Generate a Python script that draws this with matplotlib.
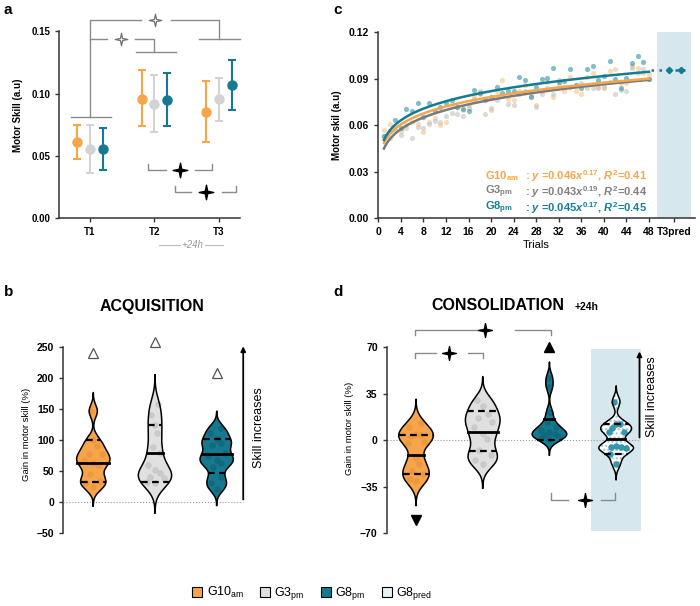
import numpy as np
import matplotlib
matplotlib.use('Agg')
import matplotlib.pyplot as plt
from matplotlib.path import Path
from matplotlib.patches import Patch

plt.rcParams['font.family'] = ['Liberation Sans', 'DejaVu Sans']
plt.rcParams['mathtext.fontset'] = 'custom'
plt.rcParams['mathtext.rm'] = 'Liberation Sans:bold'
plt.rcParams['mathtext.it'] = 'Liberation Sans:italic:bold'
plt.rcParams['mathtext.bf'] = 'Liberation Sans:bold'
plt.rcParams['mathtext.sf'] = 'Liberation Sans'

# ---------------- DATA ----------------
# Panel a : motor skill per session (mean, lower, upper)
sessions = ['T1', 'T2', 'T3']
g10_mean = [0.0612, 0.0958, 0.0851]
g10_lo = [0.0472, 0.0735, 0.0606]
g10_hi = [0.0749, 0.1186, 0.1103]
g3_mean = [0.0553, 0.0918, 0.0952]
g3_lo = [0.0357, 0.0687, 0.0781]
g3_hi = [0.0749, 0.1151, 0.1124]
g8_mean = [0.0553, 0.0950, 0.1065]
g8_lo = [0.0384, 0.0741, 0.0869]
g8_hi = [0.0722, 0.1164, 0.1269]
a_yticks = [0.00, 0.05, 0.10, 0.15]

# Panel c : motor skill per trial
trials = list(range(1, 49))
c_g10 = [0.057, 0.061, 0.058, 0.056, 0.060, 0.062, 0.061, 0.0555, 0.062, 0.065,
         0.060, 0.062, 0.074, 0.072, 0.070, 0.073, 0.079, 0.080, 0.077, 0.070,
         0.082, 0.089, 0.077, 0.076, 0.082, 0.086, 0.081, 0.073, 0.082, 0.088,
         0.078, 0.086, 0.082, 0.091, 0.082, 0.080, 0.091, 0.094, 0.085, 0.084,
         0.095, 0.096, 0.087, 0.087, 0.098, 0.097, 0.094, 0.093]
c_g3 = [0.053, 0.052, 0.056, 0.054, 0.058, 0.052, 0.059, 0.0585, 0.061, 0.063,
        0.062, 0.066, 0.068, 0.067, 0.066, 0.071, 0.077, 0.082, 0.067, 0.071,
        0.076, 0.079, 0.074, 0.073, 0.080, 0.082, 0.079, 0.072, 0.080, 0.084,
        0.080, 0.089, 0.085, 0.085, 0.086, 0.087, 0.084, 0.084, 0.084, 0.085,
        0.088, 0.080, 0.083, 0.082, 0.097, 0.094, 0.096, 0.090]
c_g8 = [0.053, 0.0565, 0.0635, 0.0585, 0.0705, 0.069, 0.0745, 0.0655, 0.0745, 0.069,
        0.072, 0.0745, 0.076, 0.072, 0.0705, 0.069, 0.083, 0.081, 0.076, 0.078,
        0.0845, 0.081, 0.082, 0.082, 0.091, 0.089, 0.078, 0.085, 0.0897, 0.0903,
        0.097, 0.088, 0.0885, 0.096, 0.086, 0.084, 0.096, 0.0985, 0.089, 0.0917,
        0.1017, 0.0899, 0.0843, 0.0903, 0.100, 0.105, 0.1006, 0.0899]
# power-law curves as drawn (a, b) : y = a * x**b
fit_g10 = (0.0485, 0.160)
fit_g3 = (0.0450, 0.177)
fit_g8 = (0.0505, 0.162)
eq_labels = [('G10$_\\mathbf{am}$', ': $y$ =0.046$x^{\\mathbf{0.17}}$, $R^\\mathbf{2}$=0.41'),
             ('G3$_\\mathbf{pm}$', ': $y$ =0.043$x^{\\mathbf{0.19}}$, $R^\\mathbf{2}$=0.44'),
             ('G8$_\\mathbf{pm}$', ': $y$ =0.045$x^{\\mathbf{0.17}}$, $R^\\mathbf{2}$=0.45')]
t3pred_value = 0.0955
c_xticks = list(range(0, 49, 4))
c_yticks = [0.00, 0.03, 0.06, 0.09, 0.12]

# Panel b : acquisition gain (%)
acq_g10 = [24, 31, 35, 46, 60, 64, 68, 78, 78, 91, 100, 147]
acq_g3 = [31, 33, 39, 41, 47, 52, 60, 79, 89, 111, 124, 141, 158]
acq_g8 = [22, 31, 41, 57, 64, 68, 74, 80, 92, 95, 102, 111, 120]
acq_q1 = [32, 32, 47]
acq_med = [64, 79, 78]
acq_q3 = [100, 124, 102]
acq_outlier = [240, 258, 209]
b_yticks = [-50, 0, 50, 100, 150, 200, 250]

# Panel d : consolidation gain (%)
con_g10 = [13, 10, 5, 4, 3, -1, -2, -13, -18, -23, -25, -29, -31]
con_g3 = [30, 26, 20, 17, 14, 10, 5, 1, -7, -11, -15, -18]
con_g8 = [47, 40, 21, 14, 10, 8, 6, 5, 4, 3, 2, 1]
con_pred = [29, 12, 12, 9, 6, 6, -4.5, -5, -5, -6, -10, -17.5]
con_q1 = [-25, -8, 0.5, -10]
con_med = [-11, 6.5, 16, 1]
con_q3 = [4, 22, np.nan, 12]
con_outlier = [-60, np.nan, 70, np.nan]
d_yticks = [-70, -35, 0, 35, 70]

# ---------------- STYLE ----------------
ORANGE = '#F7A54A'
GREY = '#D3D3D3'
TEAL = '#16798F'
DGREY = '#808080'
SHADE = '#D6E8ED'
AXC = '#333333'
BR = '#8a8a8a'

star_path = Path([(0, 1), (0.17, 0.17), (1, 0), (0.17, -0.17), (0, -1), (-0.17, -0.17),
                  (-1, 0), (-0.17, 0.17), (0, 1)],
                 [Path.MOVETO] + [Path.LINETO] * 7 + [Path.CLOSEPOLY])

fig = plt.figure(figsize=(7.0, 6.06), dpi=100)


def style_axes(ax, fs=7.5):
    for s in ['top', 'right']:
        ax.spines[s].set_visible(False)
    for s in ['left', 'bottom']:
        ax.spines[s].set_color(AXC)
        ax.spines[s].set_linewidth(1.1)
    ax.tick_params(colors=AXC, width=1.0, length=3, labelsize=fs)
    for lab in ax.get_xticklabels() + ax.get_yticklabels():
        lab.set_fontweight('bold')
        lab.set_color('black')


# ================= Panel a =================
ax = fig.add_axes([0.0847, 0.6408, 0.2581, 0.3381])
ax.set_xlim(-0.476, 2.326)
ax.set_ylim(0, 0.165)
xs = np.arange(len(sessions))
for off, m, lo, hi, col in [(-0.197, g10_mean, g10_lo, g10_hi, ORANGE),
                            (0.0, g3_mean, g3_lo, g3_hi, GREY),
                            (0.197, g8_mean, g8_lo, g8_hi, TEAL)]:
    m = np.array(m); lo = np.array(lo); hi = np.array(hi)
    ax.errorbar(xs + off, m, yerr=[m - lo, hi - m], fmt='o', color=col, ms=6.5,
                capsize=3, elinewidth=1.5, capthick=1.5, zorder=3)
ax.spines['left'].set_bounds(0, 0.15)
ax.set_xticks(xs)
ax.set_xticklabels(sessions)
ax.set_yticks(a_yticks)
ax.set_yticklabels([f'{v:.2f}' for v in a_yticks])
style_axes(ax, 7)
ax.set_ylabel('Motor Skill (a.u)', fontsize=7, fontweight='bold', labelpad=6)
kw = dict(color=BR, lw=1.0, clip_on=False, zorder=1)
# top bracket
ax.plot([0, 0, 0.786], [0.0813, 0.1592, 0.1592], **kw)
ax.plot([1.251, 2.0, 2.0], [0.1592, 0.1592, 0.1439], **kw)
ax.plot([-0.30, 0.32], [0.0813, 0.0813], **kw)
ax.plot([1.69, 2.326], [0.1439, 0.1439], **kw)
ax.plot(1.008, 0.1592, marker=star_path, ms=9, mfc='white', mec='#707070', mew=0.9, clip_on=False)
# second bracket
ax.plot([0, 0.259], [0.1439, 0.1439], **kw)
ax.plot([0.698, 1.0, 1.0], [0.1439, 0.1439, 0.1332], **kw)
ax.plot([0.713, 1.329], [0.1332, 0.1332], **kw)
ax.plot(0.476, 0.1439, marker=star_path, ms=9, mfc='white', mec='#707070', mew=0.9, clip_on=False)
# black brackets
ax.plot([0.895, 0.895, 1.174], [0.043, 0.0384, 0.0384], **kw)
ax.plot([1.628, 1.896, 1.896], [0.0384, 0.0384, 0.043], **kw)
ax.plot(1.395, 0.0384, marker=star_path, ms=10.5, color='black', clip_on=False)
ax.plot([1.318, 1.318, 1.561], [0.0255, 0.0209, 0.0209], **kw)
ax.plot([2.042, 2.264, 2.264], [0.0209, 0.0209, 0.0255], **kw)
ax.plot(1.794, 0.0209, marker=star_path, ms=10.5, color='black', clip_on=False)
# +24h
ax.plot([1.07, 1.395], [-0.022, -0.022], color='#bbbbbb', lw=0.8, clip_on=False)
ax.plot([1.783, 2.062], [-0.022, -0.022], color='#bbbbbb', lw=0.8, clip_on=False)
ax.text(1.592, -0.022, '+24h', style='italic', color='#999999', fontsize=7,
        ha='center', va='center')

# ================= Panel c =================
ax = fig.add_axes([0.5404, 0.6398, 0.4524, 0.3069])
ax.set_xlim(0, 56.15)
ax.set_ylim(0, 0.12)
ax.axvspan(49.5, 55.5, color=SHADE, lw=0, zorder=0)
ax.scatter(trials, c_g10, s=14, color=ORANGE, alpha=0.4, lw=0, zorder=2)
ax.scatter(trials, c_g3, s=14, color='#BDBDBD', alpha=0.55, lw=0, zorder=2)
ax.scatter(trials, c_g8, s=14, color='#1A8AA0', alpha=0.55, lw=0, zorder=2)
tt = np.linspace(1, 48, 200)
for (a_, b_), col in [(fit_g3, '#7a7a7a'), (fit_g10, ORANGE), (fit_g8, '#137C91')]:
    ax.plot(tt, a_ * tt ** b_, color=col, lw=1.8, zorder=3)
ax.plot([48.3, 54.3], [t3pred_value, t3pred_value], ls=(0, (1, 2.2)), color=TEAL, lw=1.8, zorder=3)
ax.errorbar([51.6, 53.6], [t3pred_value, t3pred_value], xerr=0.45, fmt='D', ms=3.2,
            color=TEAL, elinewidth=1.6, capsize=0, zorder=4)
ax.set_xticks(c_xticks + [52.5])
ax.set_xticklabels([str(v) for v in c_xticks] + ['T3pred'])
ax.set_yticks(c_yticks)
ax.set_yticklabels([f'{v:.2f}' for v in c_yticks])
style_axes(ax, 7.5)
ax.set_ylabel('Motor skil (a.u)', fontsize=7, fontweight='bold', labelpad=5)
ax.set_xlabel('Trials', fontsize=8, labelpad=2)
for i, ((lab, eq), col) in enumerate(zip(eq_labels, [ORANGE, DGREY, '#13809A'])):
    yy = [0.0273, 0.0168, 0.0068][i]
    ax.text(19.0, yy, lab, color=col, fontsize=8, fontweight='bold', va='center', ha='left')
    ax.text(26.0, yy, eq, color=col, fontsize=8, fontweight='bold', va='center', ha='left')


# ================= violin helper =================
def violin(ax, x, data, bw, color, halfw=0.26, q1=None, med=None, q3=None,
           pcolor='k', hatch=None, palpha=0.6):
    d = np.asarray(data, float)
    ys = np.linspace(d.min() - 3 * bw, d.max() + 3 * bw, 400)
    dens = np.exp(-0.5 * ((ys[:, None] - d[None, :]) / bw) ** 2).sum(1)
    w = dens / dens.max() * halfw
    ax.fill_betweenx(ys, x - w, x + w, facecolor=color, edgecolor='none', zorder=2)
    if hatch:
        ax.fill_betweenx(ys, x - w, x + w, facecolor='none', edgecolor='#9fc4d0',
                         hatch=hatch, lw=0, zorder=2)
    ax.plot(np.r_[x - w, (x + w)[::-1], x - w[0]], np.r_[ys, ys[::-1], ys[0]],
            color='black', lw=1.1, zorder=4)
    pattern = np.array([0, -0.55, 0.55, -0.3, 0.3])
    ds = np.sort(d)
    for i, v in enumerate(ds):
        wv = np.interp(v, ys, w)
        ax.plot(x + pattern[i % 5] * wv, v, 'o', ms=4, color=pcolor, alpha=palpha,
                mew=0.6, mec=pcolor, zorder=3)
    for q, ls, lw in [(q1, (0, (3, 2)), 1.6), (med, '-', 2.0), (q3, (0, (3, 2)), 1.6)]:
        if q is None or np.isnan(q):
            continue
        wq = np.interp(q, ys, w)
        ax.plot([x - wq, x + wq], [q, q], color='black', ls=ls, lw=lw, zorder=5)


# ================= Panel b =================
ax = fig.add_axes([0.0904, 0.12, 0.3096, 0.3274])
ax.set_xlim(-0.486, 3.026)
ax.set_ylim(-50, 270)
ax.plot([-0.486, 2.43], [0, 0], ls=':', color='#999999', lw=0.8, zorder=1)
for i, (dat, col, pc, bw) in enumerate([(acq_g10, ORANGE, '#E8923A', 10),
                                         (acq_g3, '#E0E0E0', '#BDBDBD', 16),
                                         (acq_g8, TEAL, '#0F6275', 9)]):
    violin(ax, i, dat, bw, col, halfw=0.27, q1=acq_q1[i], med=acq_med[i], q3=acq_q3[i], pcolor=pc)
    ax.plot(i, acq_outlier[i], marker='^', ms=7, mfc='white', mec='#555555', mew=0.9, clip_on=False)
ax.annotate('', xy=(2.43, 256), xytext=(2.43, 0),
            arrowprops=dict(arrowstyle='-|>', color='black', lw=1.3, mutation_scale=7))
ax.text(2.69, 120, 'Skill increases', rotation=90, fontsize=9, ha='center', va='center')
ax.spines['bottom'].set_visible(False)
ax.spines['left'].set_bounds(-50, 250)
ax.set_xticks([])
ax.set_yticks(b_yticks)
style_axes(ax, 7.5)
ax.set_ylabel('Gain in motor skill (%)', fontsize=6.8, labelpad=4)

# ================= Panel d =================
ax = fig.add_axes([0.5524, 0.12, 0.4333, 0.3463])
ax.set_xlim(-0.44, 4.107)
ax.set_ylim(-70, 88)
ax.add_patch(plt.Rectangle((2.62, -68), 0.75, 137, color=SHADE, lw=0, zorder=0))
ax.plot([-0.44, 3.36], [0, 0], ls=':', color='#999999', lw=0.8, zorder=1)
specs = [(con_g10, ORANGE, '#E8923A', 6, None),
         (con_g3, '#E0E0E0', '#BDBDBD', 6, None),
         (con_g8, TEAL, '#0F6275', 4, None),
         (con_pred, 'white', '#2A93AA', 4, '....')]
for i, (dat, col, pc, bw, hatch) in enumerate(specs):
    violin(ax, i, dat, bw, col, halfw=0.26, q1=con_q1[i], med=con_med[i], q3=con_q3[i],
           pcolor=pc, hatch=hatch, palpha=0.95 if hatch else 0.6)
    if not np.isnan(con_outlier[i]):
        mk = 'v' if con_outlier[i] < 0 else '^'
        ax.plot(i, con_outlier[i], marker=mk, ms=6.5, color='black', clip_on=False)
ax.annotate('', xy=(3.35, 69), xytext=(3.35, 0),
            arrowprops=dict(arrowstyle='-|>', color='black', lw=1.3, mutation_scale=7))
ax.text(3.53, 33, 'Skill increases', rotation=90, fontsize=9, ha='center', va='center')
kw = dict(color=BR, lw=1.0, clip_on=False, zorder=1)
ax.plot([-0.015, -0.015, 1.1], [79, 83, 83], **kw)
ax.plot([1.48, 2.02, 2.02], [83, 83, 79], **kw)
ax.plot(1.03, 83, marker=star_path, ms=10, color='black', clip_on=False)
ax.plot([-0.015, -0.015, 0.3], [62, 66, 66], **kw)
ax.plot([0.78, 1.0, 1.0], [66, 66, 62], **kw)
ax.plot(0.5, 66, marker=star_path, ms=10, color='black', clip_on=False)
ax.plot([2.03, 2.03, 2.28], [-40, -45, -45], **kw)
ax.plot([2.78, 2.98, 2.98], [-45, -45, -40], **kw)
ax.plot(2.53, -45, marker=star_path, ms=10, color='black', clip_on=False)
ax.spines['bottom'].set_visible(False)
ax.spines['left'].set_bounds(-70, 70)
ax.set_xticks([])
ax.set_yticks(d_yticks)
style_axes(ax, 7.5)
ax.set_ylabel('Gain in motor skill (%)', fontsize=6.8, labelpad=4)

# ================= titles, letters, legend =================
fig.text(151.7 / 700, 1 - 306 / 606, 'ACQUISITION', fontsize=11.5, fontweight='bold',
         ha='center', va='center')
fig.text(498.3 / 700, 1 - 305 / 606, 'CONSOLIDATION', fontsize=11.5, fontweight='bold',
         ha='center', va='center')
fig.text(587 / 700, 1 - 307 / 606, '+24h', fontsize=7.5, fontweight='bold',
         ha='center', va='center')
for lab, (px, py) in zip('abcd', [(4, 10), (4, 292), (333, 10), (333, 292)]):
    fig.text(px / 700, 1 - py / 606, lab, fontsize=11, fontweight='bold', ha='left', va='center')

handles = [Patch(facecolor=ORANGE, edgecolor='black', lw=0.8),
           Patch(facecolor='#E0E0E0', edgecolor='black', lw=0.8),
           Patch(facecolor=TEAL, edgecolor='black', lw=0.8),
           Patch(facecolor='#E9F2F5', edgecolor='black', lw=0.8)]
labels = ['G10$_\\mathsf{am}$', 'G3$_\\mathsf{pm}$', 'G8$_\\mathsf{pm}$', 'G8$_\\mathsf{pred}$']
fig.legend(handles, labels, loc='center', bbox_to_anchor=(0.446, 0.02), ncol=4,
           frameon=False, fontsize=9, handlelength=0.8, handleheight=0.8,
           handletextpad=0.35, columnspacing=1.3)

fig.savefig('out.png', dpi=100)
